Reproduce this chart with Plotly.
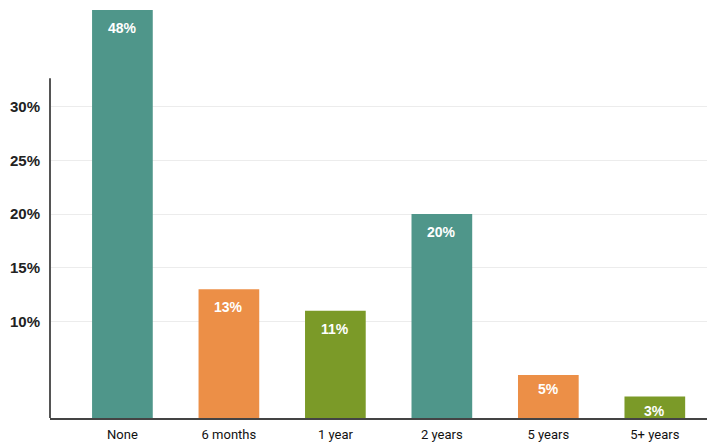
import plotly.graph_objects as go

# Share of respondents by duration
categories = ["None", "6 months", "1 year", "2 years", "5 years", "5+ years"]
values = [48, 13, 11, 20, 5, 3]
bar_colors = ["#4f968a", "#ec8f47", "#7b9a28", "#4f968a", "#ec8f47", "#7b9a28"]
y_tickvals = [10, 15, 20, 25, 30]
y_ticktext = ["10%", "15%", "20%", "25%", "30%"]

y_min, y_max = 1.0, 39.0

fig = go.Figure(
    go.Bar(
        x=categories,
        y=values,
        marker=dict(color=bar_colors, line=dict(width=0)),
        width=0.57,
        hoverinfo="skip",
    )
)

# value labels just inside the top of each (visible) bar
for cat, v in zip(categories, values):
    fig.add_annotation(
        x=cat,
        y=min(v, y_max),
        text=f"{v}%",
        showarrow=False,
        yanchor="top",
        yshift=-4 if v < 8 else -8,
        font=dict(family="Liberation Sans, Arial, sans-serif", size=14,
                  color="white", weight="bold"),
    )

# vertical axis line that stops below the top of the plot area
fig.add_shape(
    type="line", xref="paper", yref="paper",
    x0=0, x1=0, y0=0, y1=0.833,
    line=dict(color="#555555", width=2),
)

fig.update_layout(
    width=707,
    height=443,
    margin=dict(l=50, r=0, t=10, b=25),
    plot_bgcolor="white",
    paper_bgcolor="white",
    showlegend=False,
)

fig.update_xaxes(
    range=[-0.68, 5.49],
    showline=True,
    linecolor="#444444",
    linewidth=2,
    showgrid=False,
    ticks="outside",
    ticklen=3,
    tickcolor="rgba(0,0,0,0)",
    tickfont=dict(family="Liberation Sans Narrow, Roboto, Arial, sans-serif",
                  size=13, color="#111111"),
)

fig.update_yaxes(
    range=[y_min, y_max],
    tickvals=y_tickvals,
    ticktext=y_ticktext,
    showline=False,
    zeroline=False,
    showgrid=True,
    gridcolor="#ececec",
    gridwidth=1,
    ticks="outside",
    ticklen=6,
    tickcolor="rgba(0,0,0,0)",
    tickfont=dict(family="Liberation Sans, Arial, sans-serif", size=15,
                  color="#222222", weight="bold"),
)

fig.write_html("out.html")
